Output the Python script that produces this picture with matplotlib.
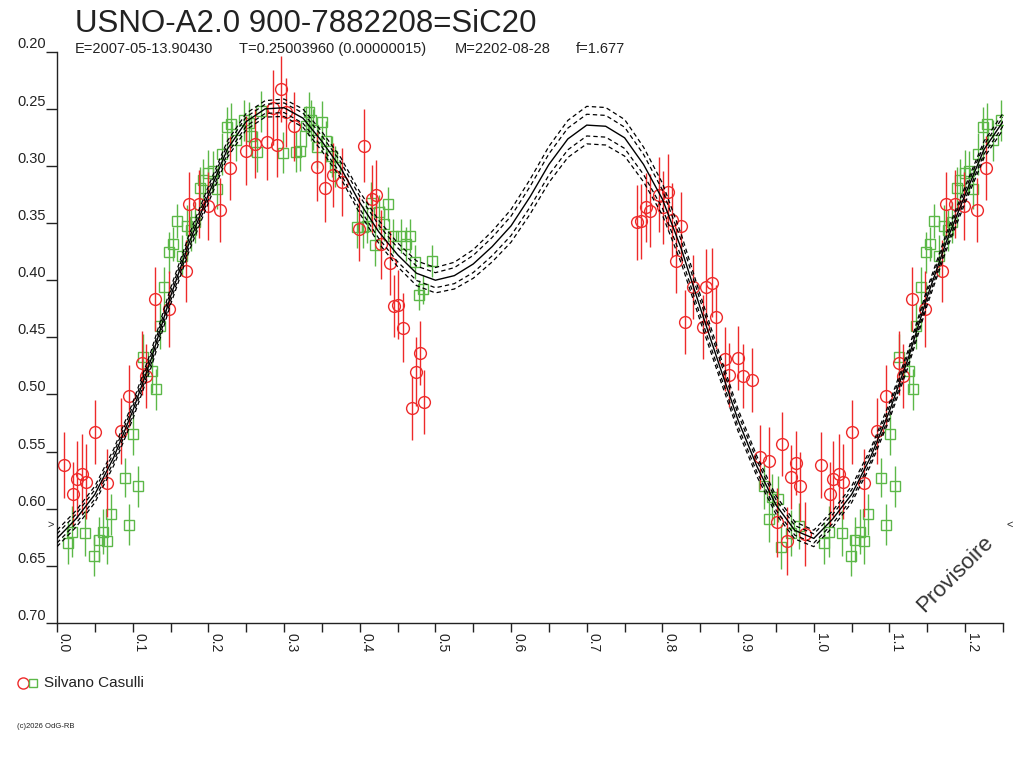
import matplotlib
matplotlib.use("Agg")
import matplotlib.pyplot as plt
from matplotlib.lines import Line2D
import numpy as np

plt.rcParams['font.family'] = ['Liberation Sans', 'DejaVu Sans']

TITLE = "USNO-A2.0 900-7882208=SiC20"
SUB_E = "E=2007-05-13.90430"
SUB_T = "T=0.25003960 (0.00000015)"
SUB_M = "M=2202-08-28"
SUB_F = "f=1.677"
OBSERVER = "Silvano Casulli"

# fitted light curve, phase 0..1 every 0.025
curve_phase = [0.000, 0.025, 0.050, 0.075, 0.100, 0.125, 0.150, 0.175, 0.200, 0.225,
               0.250, 0.275, 0.300, 0.325, 0.350, 0.375, 0.400, 0.425, 0.450, 0.475,
               0.500, 0.525, 0.550, 0.575, 0.600, 0.625, 0.650, 0.675, 0.700, 0.725,
               0.750, 0.775, 0.800, 0.825, 0.850, 0.875, 0.900, 0.925, 0.950, 0.975, 1.000]
curve_mag = [0.626, 0.609, 0.5875, 0.555, 0.5146, 0.468, 0.4143, 0.3667, 0.3252, 0.2856,
             0.2613, 0.2502, 0.2492, 0.2583, 0.2786, 0.3019, 0.3322, 0.3576, 0.3778, 0.394,
             0.4001, 0.3961, 0.3859, 0.3707, 0.3525, 0.3272, 0.2988, 0.2765, 0.2644, 0.2654,
             0.2755, 0.2988, 0.3292, 0.3728, 0.4244, 0.4741, 0.5227, 0.5632, 0.5967, 0.619, 0.626]
env_inner = [0.0040, 0.0040, 0.0040, 0.0040, 0.0040, 0.0040, 0.0040, 0.0040, 0.0040, 0.0040,
             0.0040, 0.0040, 0.0042, 0.0045, 0.0048, 0.0052, 0.0055, 0.0058, 0.0061, 0.0063,
             0.0066, 0.0070, 0.0075, 0.0080, 0.0085, 0.0090, 0.0093, 0.0095, 0.0095, 0.0095,
             0.0093, 0.0088, 0.0080, 0.0072, 0.0065, 0.0060, 0.0055, 0.0050, 0.0045, 0.0042, 0.0040]
env_outer = [0.0072, 0.0072, 0.0072, 0.0072, 0.0072, 0.0072, 0.0072, 0.0072, 0.0072, 0.0072,
             0.0072, 0.0072, 0.0076, 0.0080, 0.0085, 0.0090, 0.0095, 0.0100, 0.0104, 0.0108,
             0.0111, 0.0117, 0.0125, 0.0134, 0.0143, 0.0152, 0.0158, 0.0162, 0.0164, 0.0164,
             0.0160, 0.0152, 0.0140, 0.0126, 0.0114, 0.0104, 0.0096, 0.0088, 0.0080, 0.0075, 0.0072]

# red circles: phase, magnitude, error
red_phase = [0.0097, 0.021, 0.026, 0.033, 0.038, 0.050, 0.066, 0.084, 0.0955, 0.112,
             0.118, 0.130, 0.1475, 0.170, 0.175, 0.187, 0.199, 0.216, 0.228, 0.250,
             0.262, 0.278, 0.285, 0.291, 0.296, 0.302, 0.3135, 0.343, 0.354, 0.365,
             0.377, 0.399, 0.405, 0.4165, 0.422, 0.428, 0.440, 0.445, 0.451, 0.457,
             0.4686, 0.474, 0.4795, 0.4853,
             0.7666, 0.772, 0.778, 0.784, 0.795, 0.801, 0.807, 0.812, 0.818, 0.824,
             0.830, 0.841, 0.853, 0.858, 0.865, 0.871, 0.8825, 0.888, 0.900, 0.906,
             0.918, 0.9295, 0.941, 0.952, 0.9586, 0.964, 0.9705, 0.976, 0.982, 0.988]
red_mag = [0.562, 0.5875, 0.5744, 0.5693, 0.5764, 0.5328, 0.5774, 0.5318, 0.5014, 0.4721,
           0.4842, 0.4163, 0.4254, 0.392, 0.3333, 0.3333, 0.3353, 0.3383, 0.3019, 0.2867,
           0.2806, 0.2796, 0.2492, 0.2816, 0.233, 0.2532, 0.2654, 0.3008, 0.3191, 0.3079,
           0.314, 0.3555, 0.2826, 0.3292, 0.3252, 0.3687, 0.3849, 0.4224, 0.4214, 0.4417,
           0.5116, 0.4802, 0.4639, 0.5065,
           0.3495, 0.3485, 0.3363, 0.3393, 0.3252, 0.3363, 0.3231, 0.3474, 0.3829, 0.3525,
           0.4366, 0.4062, 0.4406, 0.4062, 0.4021, 0.4325, 0.469, 0.4832, 0.468, 0.4842,
           0.4872, 0.5551, 0.5582, 0.6119, 0.543, 0.6281, 0.5723, 0.5602, 0.5805, 0.622]
red_err = [0.029, 0.028, 0.034, 0.035, 0.033, 0.028, 0.030, 0.029, 0.027, 0.028,
           0.028, 0.028, 0.033, 0.027, 0.028, 0.030, 0.030, 0.028, 0.028, 0.030,
           0.030, 0.033, 0.033, 0.028, 0.029, 0.030, 0.030, 0.030, 0.030, 0.028,
           0.030, 0.028, 0.032, 0.030, 0.030, 0.030, 0.028, 0.027, 0.030, 0.030,
           0.028, 0.030, 0.028, 0.028,
           0.033, 0.033, 0.030, 0.032, 0.033, 0.032, 0.033, 0.032, 0.028, 0.030,
           0.028, 0.028, 0.028, 0.033, 0.030, 0.028, 0.028, 0.028, 0.028, 0.028,
           0.028, 0.028, 0.030, 0.030, 0.028, 0.030, 0.028, 0.028, 0.030, 0.028]

# green squares: phase, magnitude, error
green_phase = [0.014, 0.020, 0.037, 0.049, 0.055, 0.061, 0.066, 0.072, 0.0893, 0.0955,
               0.101, 0.107, 0.113, 0.1255, 0.1308, 0.1356, 0.1418, 0.148, 0.153, 0.159,
               0.165, 0.172, 0.1775, 0.182, 0.189, 0.193, 0.200, 0.2055, 0.211, 0.2175,
               0.224, 0.2295, 0.2365, 0.247, 0.254, 0.256, 0.264, 0.270, 0.299, 0.316,
               0.321, 0.329, 0.333, 0.3355, 0.3386, 0.344, 0.350, 0.356, 0.363, 0.367,
               0.397, 0.404, 0.409, 0.415, 0.420, 0.426, 0.432, 0.438, 0.444, 0.455,
               0.4606, 0.466, 0.473, 0.4786, 0.484, 0.495,
               0.934, 0.9406, 0.9454, 0.953, 0.957, 0.970, 0.980]
green_mag = [0.630, 0.620, 0.621, 0.6412, 0.627, 0.620, 0.628, 0.6048, 0.5729, 0.6139,
             0.5349, 0.5805, 0.467, 0.4791, 0.4954, 0.4401, 0.4062, 0.3758, 0.3687, 0.3485,
             0.3788, 0.3525, 0.3566, 0.3495, 0.3191, 0.312, 0.3059, 0.3049, 0.3201, 0.2897,
             0.2664, 0.2634, 0.2775, 0.2603, 0.2623, 0.2735, 0.2877, 0.2522, 0.2887, 0.2877,
             0.2867, 0.2654, 0.2532, 0.2603, 0.2684, 0.2836, 0.2613, 0.2786, 0.2917, 0.3008,
             0.3535, 0.3535, 0.3525, 0.3322, 0.3697, 0.3403, 0.3505, 0.3333, 0.3616, 0.3616,
             0.3687, 0.3616, 0.3839, 0.4133, 0.4082, 0.3829,
             0.5805, 0.6088, 0.5896, 0.5916, 0.6331, 0.6215, 0.6149]
green_err = [0.018, 0.022, 0.020, 0.018, 0.020, 0.020, 0.020, 0.018, 0.017, 0.018,
             0.018, 0.018, 0.020, 0.020, 0.018, 0.020, 0.018, 0.018, 0.015, 0.015,
             0.018, 0.018, 0.018, 0.018, 0.018, 0.018, 0.020, 0.018, 0.018, 0.018,
             0.018, 0.018, 0.018, 0.018, 0.018, 0.018, 0.018, 0.018, 0.018, 0.018,
             0.018, 0.018, 0.018, 0.018, 0.018, 0.018, 0.018, 0.018, 0.018, 0.018,
             0.018, 0.018, 0.015, 0.018, 0.018, 0.015, 0.015, 0.015, 0.015, 0.015,
             0.015, 0.015, 0.015, 0.013, 0.013, 0.014,
             0.020, 0.020, 0.020, 0.020, 0.020, 0.020, 0.020]

x_major = [0.0, 0.1, 0.2, 0.3, 0.4, 0.5, 0.6, 0.7, 0.8, 0.9, 1.0, 1.1, 1.2]
x_minor = [0.05, 0.15, 0.25, 0.35, 0.45, 0.55, 0.65, 0.75, 0.85, 0.95, 1.05, 1.15, 1.25]
y_ticks = [0.20, 0.25, 0.30, 0.35, 0.40, 0.45, 0.50, 0.55, 0.60, 0.65, 0.70]

RED = '#ee2a2a'
GREEN = '#5cb848'
INK = '#222222'


def wrap(phase, *cols, upto=0.25, inclusive=False):
    # phases at the start of the cycle are drawn again one cycle later
    phase = np.asarray(phase)
    sel = phase <= upto if inclusive else phase < upto
    out = [np.concatenate([phase, phase[sel] + 1.0])]
    for c in cols:
        c = np.asarray(c)
        out.append(np.concatenate([c, c[sel]]))
    return out


fig = plt.figure(figsize=(10.24, 7.68), dpi=100)
top_px, bot_px = 51.5, 623
ax = fig.add_axes([57 / 1024, 1 - bot_px / 768, (1003 - 57) / 1024, (bot_px - top_px) / 768])

# model curve + envelopes
cp, cm, ei, eo = wrap(curve_phase[:-1], curve_mag[:-1], env_inner[:-1], env_outer[:-1],
                      inclusive=True)
order = np.argsort(cp)
cp, cm, ei, eo = cp[order], cm[order], ei[order], eo[order]
ax.plot(cp, cm, color='black', lw=1.0, zorder=3)
for off in (ei, -ei, eo, -eo):
    ax.plot(cp, cm + off, color='black', lw=0.9, ls=(0, (3.5, 2.5)), zorder=3)

rp, rm, re = wrap(red_phase, red_mag, red_err)
gp, gm, ge = wrap(green_phase, green_mag, green_err)

ax.errorbar(gp, gm, yerr=ge, fmt='none', ecolor=GREEN, elinewidth=1.0, capsize=0, zorder=2)
ax.plot(gp, gm, ls='none', marker='s', ms=7, mfc='none', mec=GREEN, mew=1.0, zorder=2)
ax.errorbar(rp, rm, yerr=re, fmt='none', ecolor=RED, elinewidth=1.0, capsize=0, zorder=2)
ax.plot(rp, rm, ls='none', marker='o', ms=8.5, mfc='none', mec=RED, mew=1.0, zorder=2)

ax.set_xlim(0, 1.25)
ax.set_ylim(0.70, 0.20)

for s in ('top', 'right'):
    ax.spines[s].set_visible(False)
for s in ('left', 'bottom'):
    ax.spines[s].set_color(INK)
    ax.spines[s].set_linewidth(1.0)

ax.set_xticks(x_major)
ax.set_xticks(x_minor, minor=True)
ax.set_xticklabels(['%.1f' % v for v in x_major])
ax.set_yticks(y_ticks)
ax.set_yticklabels(['%.2f' % v for v in y_ticks])

ax.tick_params(axis='x', which='both', direction='out', length=6.5, width=1.0,
               color=INK, labelsize=10, labelcolor=INK, pad=1)
ax.tick_params(axis='y', direction='out', length=8, width=1.0, color=INK,
               labelsize=10.5, labelcolor=INK, pad=0)
for lab in ax.get_xticklabels():
    lab.set_rotation(-90)
    lab.set_ha('left')
    lab.set_va('top')
for lab in ax.get_yticklabels():
    lab.set_va('bottom')

# level markers at the sides
ax.text(-0.004, 0.614, '>', fontsize=8, color=INK, ha='right', va='center', clip_on=False)
ax.text(1.254, 0.614, '<', fontsize=8, color=INK, ha='left', va='center', clip_on=False)

ax.text(1.187, 0.657, 'Provisoire', fontsize=16, color='#333333', rotation=45,
        ha='center', va='center')

fig.text(75 / 1024, 1 - 32 / 768, TITLE, fontsize=22.5, color=INK, ha='left', va='baseline')
sub_y = 1 - 53 / 768
for xpx, txt in ((75, SUB_E), (239, SUB_T), (455, SUB_M), (576, SUB_F)):
    fig.text(xpx / 1024, sub_y, txt, fontsize=10.5, color=INK, ha='left', va='baseline')

fig.add_artist(Line2D([23 / 1024], [1 - 683 / 768], transform=fig.transFigure,
                      marker='o', ms=8, mfc='none', mec=RED, mew=1.0, ls='none'))
fig.add_artist(Line2D([33 / 1024], [1 - 683 / 768], transform=fig.transFigure,
                      marker='s', ms=6, mfc='none', mec=GREEN, mew=1.0, ls='none'))
fig.text(44 / 1024, 1 - 683 / 768, OBSERVER, fontsize=11, color=INK, ha='left', va='center')
fig.text(17 / 1024, 1 - 726 / 768, '(c)2026 OdG-RB', fontsize=5.5, color=INK,
         ha='left', va='center')

fig.savefig('out.png', dpi=100)
